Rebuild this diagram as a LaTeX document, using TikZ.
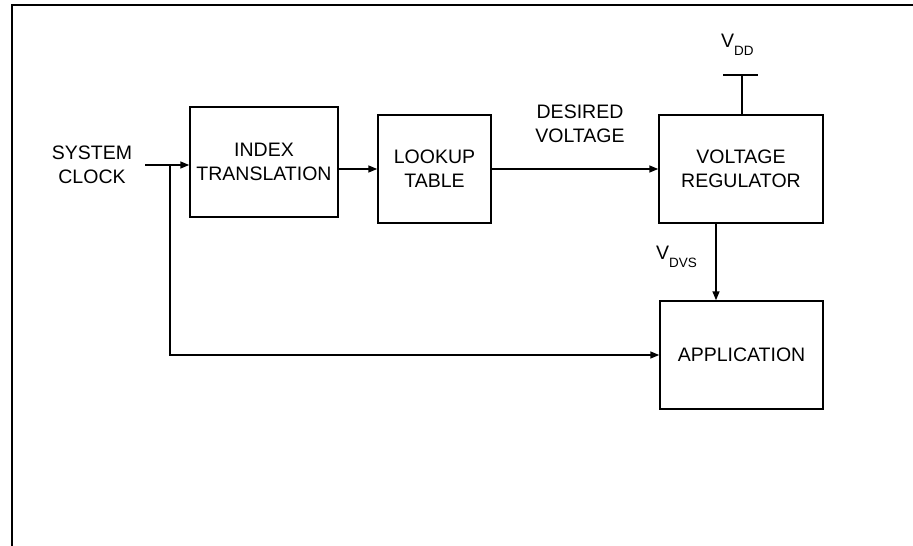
\documentclass[tikz,border=0pt]{standalone}
\usepackage{fontspec}
\setmainfont{Liberation Sans}
\usetikzlibrary{arrows.meta}

\begin{document}
\begin{tikzpicture}[x=1pt,y=-1pt,
  txt/.style={font=\fontsize{19.5}{24}\selectfont},
  blk/.style={txt,draw,line width=1.5pt,rectangle,inner sep=0pt,align=center},
  lbl/.style={txt,inner sep=0pt,align=center},
  wire/.style={line width=1.5pt},
  sig/.style={wire,-{Triangle[length=9pt,width=7pt]}}]

  % page extent and outer frame (top and left edges)
  \useasboundingbox (0,0) rectangle (913,546);
  \draw[line width=2pt] (12,546) -- (12,5) -- (913,5);

  % blocks
  \node[blk,minimum width=148pt,minimum height=110pt] (it)  at (264,162)   {INDEX\\TRANSLATION};
  \node[blk,minimum width=113pt,minimum height=108pt] (lt)  at (434.5,169) {LOOKUP\\TABLE};
  \node[blk,minimum width=164pt,minimum height=108pt] (vr)  at (741,169)   {VOLTAGE\\REGULATOR};
  \node[blk,minimum width=163pt,minimum height=108pt] (app) at (741.5,355) {APPLICATION};

  % text labels
  \node[lbl] (sc) at (92,165) {SYSTEM\\CLOCK};
  \node[lbl] (dv) at (580,124) {DESIRED\\VOLTAGE};
  \node[txt,anchor=base west,inner sep=0pt] (vdd) at (721,47)
    {V\raisebox{-8pt}{\fontsize{13.5}{13.5}\selectfont DD}};
  \node[txt,anchor=base west,inner sep=0pt] (vdvs) at (656,259)
    {V\raisebox{-8pt}{\fontsize{13.5}{13.5}\selectfont DVS}};

  % clock input and tap to the application
  \coordinate (scin) at (145,165);
  \coordinate (tap)  at (170,165);
  \draw[sig] (scin) -- (scin -| it.west);
  \draw[sig] (tap) |- (app.west);

  % forward path
  \draw[sig] (it.east |- lt.west) -- (lt.west);
  \draw[sig] (lt.east) -- (vr.west);

  % regulated supply to the application
  \coordinate (vout) at (716,223);
  \draw[sig] (vout) -- (vout |- app.north);

  % supply rail
  \coordinate (rail) at (742,75);
  \draw[wire] (vr.north -| rail) -- (rail);
  \draw[wire] (723,75) -- (758,75);
\end{tikzpicture}
\end{document}
